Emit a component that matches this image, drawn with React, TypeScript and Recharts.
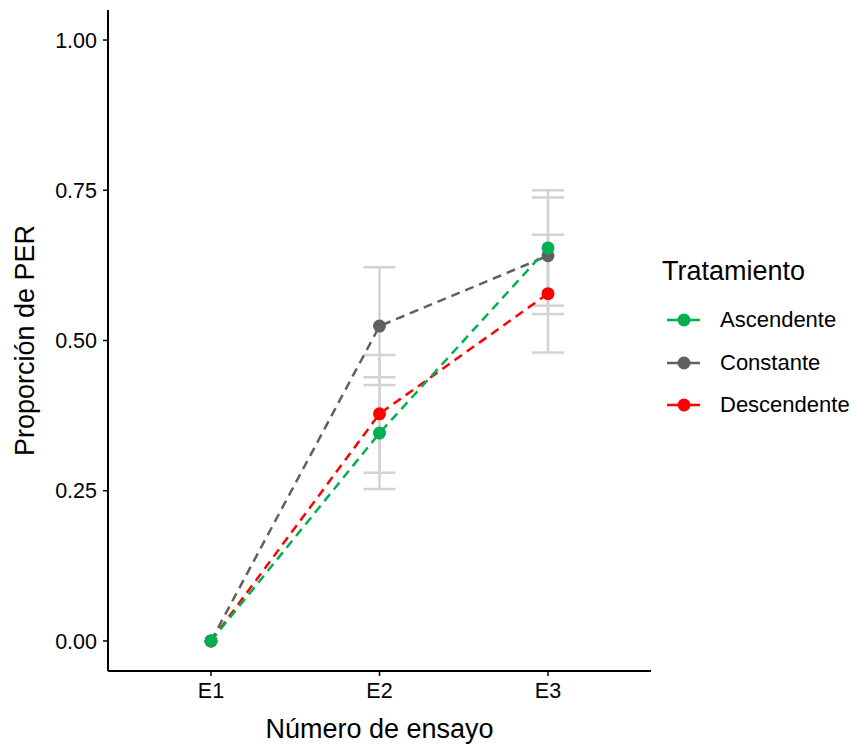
import { LineChart, Line, XAxis, YAxis, ErrorBar } from 'recharts';

const ensayos = ['E1', 'E2', 'E3'];
const ascendente = [0, 0.346, 0.654];
const constante = [0, 0.524, 0.641];
const descendente = [0, 0.378, 0.578];
const seAscendente = [0, 0.093, 0.096];
const seConstante = [0, 0.098, 0.097];
const seDescendente = [0, 0.098, 0.098];
const yTicks = [0, 0.25, 0.5, 0.75, 1];

const series = [
  { key: 'Ascendente', values: ascendente, se: seAscendente, color: '#00B050' },
  { key: 'Constante', values: constante, se: seConstante, color: '#606060' },
  { key: 'Descendente', values: descendente, se: seDescendente, color: '#FF0000' },
];

const data = ensayos.map((e, i) => {
  const row: any = { ensayo: e };
  series.forEach((s) => {
    row[s.key] = s.values[i];
    row[s.key + '_se'] = s.se[i];
  });
  return row;
});

const font = '"Liberation Sans", Arial, sans-serif';

function LegendBox() {
  return (
    <div style={{ position: 'absolute', left: 662, top: 254, fontFamily: font, color: '#000' }}>
      <div style={{ fontSize: 27, lineHeight: '34px', marginBottom: 11 }}>Tratamiento</div>
      {series.map((s) => (
        <div key={s.key} style={{ display: 'flex', alignItems: 'center', height: 42.5 }}>
          <svg width={46} height={20}>
            <line x1={5} y1={10} x2={38} y2={10} stroke={s.color} strokeWidth={2.5} />
            <circle cx={22} cy={10} r={6.5} fill={s.color} />
          </svg>
          <span style={{ fontSize: 22, marginLeft: 12 }}>{s.key}</span>
        </div>
      ))}
    </div>
  );
}

export default function App() {
  return (
    <div style={{ position: 'absolute', left: 0, top: 0, width: 852, height: 745, background: '#fff' }}>
      <LineChart width={852} height={745} data={data} margin={{ top: 10, right: 201, bottom: 0, left: 0 }}>
        <XAxis
          dataKey="ensayo"
          scale="point"
          padding={{ left: 103, right: 103 }}
          height={74}
          tickLine={{ stroke: '#000', strokeWidth: 1.5 }}
          axisLine={{ stroke: '#000', strokeWidth: 2 }}
          tickSize={5}
          tickMargin={7}
          tick={{ fontSize: 21.5, fill: '#000', fontFamily: font }}
          label={{ value: 'Número de ensayo', position: 'insideBottom', offset: 7, fontSize: 27, fill: '#000', fontFamily: font }}
        />
        <YAxis
          type="number"
          domain={[-0.05, 1.05]}
          ticks={yTicks}
          width={108}
          tickFormatter={(v: number) => v.toFixed(2)}
          tickLine={{ stroke: '#000', strokeWidth: 1.5 }}
          axisLine={{ stroke: '#000', strokeWidth: 2 }}
          tickSize={5}
          tickMargin={6}
          tick={{ fontSize: 21.5, fill: '#000', fontFamily: font }}
          label={{ value: 'Proporción de PER', angle: -90, position: 'insideLeft', offset: 24, style: { textAnchor: 'middle' }, fontSize: 27, fill: '#000', fontFamily: font }}
        />
        {series.map((s) => (
          <Line
            key={s.key + '_err'}
            dataKey={s.key}
            stroke="none"
            dot={false}
            activeDot={false}
            legendType="none"
            isAnimationActive={false}
          >
            <ErrorBar dataKey={s.key + '_se'} direction="y" width={16} stroke="#D3D3D3" strokeWidth={2.5} />
          </Line>
        ))}
        {[series[2], series[1], series[0]].map((s) => (
          <Line
            key={s.key}
            dataKey={s.key}
            stroke={s.color}
            strokeWidth={2.5}
            strokeDasharray="9 6"
            dot={{ r: 6.5, fill: s.color, stroke: 'none' }}
            activeDot={false}
            isAnimationActive={false}
          />
        ))}
      </LineChart>
      <LegendBox />
    </div>
  );
}
